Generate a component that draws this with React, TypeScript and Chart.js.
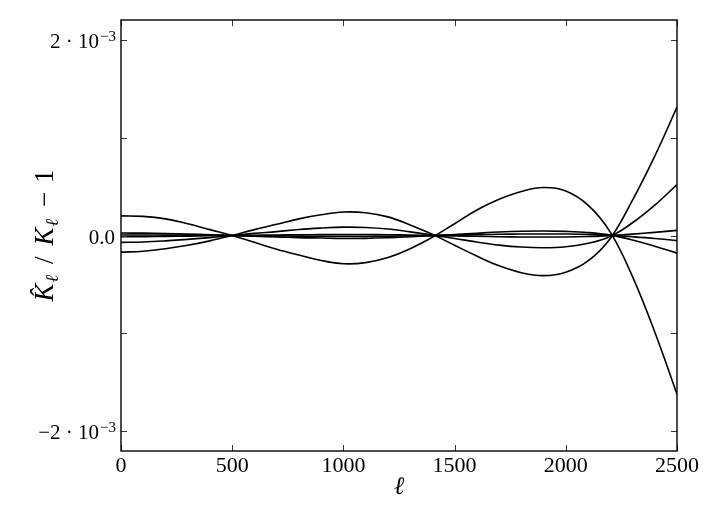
import React, { useEffect, useRef } from "react";
import { Chart, registerables } from "chart.js";

Chart.register(...registerables);

// multipole ℓ
const ELL = [0, 100, 200, 300, 400, 500, 600, 700, 800, 900, 1000, 1100, 1200, 1300, 1400, 1500, 1600, 1700, 1800, 1900, 2000, 2100, 2200, 2300, 2400, 2500];

// curves, values in units of 1e-3
const CURVE_A = [-0.17, -0.16, -0.135, -0.1, -0.055, 0, 0.06, 0.115, 0.17, 0.212, 0.24, 0.232, 0.19, 0.108, 0.012, -0.1, -0.21, -0.31, -0.38, -0.41, -0.375, -0.26, -0.03, 0.36, 0.81, 1.31];
const CURVE_B = [0.2, 0.195, 0.17, 0.12, 0.06, 0, -0.07, -0.14, -0.2, -0.255, -0.288, -0.277, -0.225, -0.135, -0.018, 0.12, 0.26, 0.37, 0.45, 0.49, 0.455, 0.31, 0.035, -0.42, -0.985, -1.62];
const CURVE_C = [-0.07, -0.066, -0.055, -0.04, -0.022, 0, 0.022, 0.04, 0.062, 0.076, 0.085, 0.082, 0.066, 0.037, 0.004, -0.03, -0.067, -0.098, -0.118, -0.125, -0.115, -0.08, -0.01, 0.13, 0.31, 0.52];
const CURVE_D = [0.025, 0.024, 0.02, 0.014, 0.008, 0, -0.008, -0.014, -0.022, -0.026, -0.03, -0.029, -0.023, -0.013, -0.002, 0.01, 0.023, 0.035, 0.043, 0.046, 0.042, 0.03, 0.004, -0.045, -0.11, -0.18];
const CURVE_E = [-0.012, -0.011, -0.009, -0.006, -0.003, 0, 0.003, 0.005, 0.007, 0.009, 0.01, 0.01, 0.008, 0.005, 0.001, -0.004, -0.008, -0.012, -0.015, -0.016, -0.015, -0.01, -0.001, 0.014, 0.032, 0.052];
const CURVE_F = [0.005, 0.005, 0.004, 0.003, 0.002, 0, -0.002, -0.004, -0.006, -0.008, -0.009, -0.009, -0.007, -0.004, -0.001, 0.004, 0.008, 0.012, 0.015, 0.016, 0.015, 0.011, 0.001, -0.013, -0.03, -0.052];

const CURVES = [CURVE_A, CURVE_B, CURVE_C, CURVE_D, CURVE_E, CURVE_F];

const X_TICKS = [0, 500, 1000, 1500, 2000, 2500];
const Y_TICKS = [-2, -1, 0, 1, 2]; // units of 1e-3
const Y_TICK_MAIN = ["\u22122 \u00b7 10", "", "0.0", "", "2 \u00b7 10"];
const Y_TICK_EXP = ["\u22123", "", "", "", "\u22123"];
const X_TITLE = "\u2113";
const Y_TITLE_PARTS = ["K\u0302", "\u2113", "/", "K", "\u2113", "\u2212", "1"];

const SCALE = 1e-3;
const SERIF = "'Liberation Serif', 'DejaVu Serif', serif";

const framePlugin = {
  id: "frameTicks",
  afterDatasetsDraw(chart: any) {
    const { ctx, chartArea: a, scales } = chart;
    const xs = scales.x;
    const ys = scales.y;
    ctx.save();
    ctx.strokeStyle = "#333";
    ctx.lineWidth = 1;
    const tl = 6;
    X_TICKS.forEach((v) => {
      const px = Math.round(xs.getPixelForValue(v)) + 0.5;
      ctx.beginPath();
      ctx.moveTo(px, a.bottom);
      ctx.lineTo(px, a.bottom - tl);
      ctx.moveTo(px, a.top);
      ctx.lineTo(px, a.top + tl);
      ctx.stroke();
    });
    Y_TICKS.forEach((v) => {
      const py = Math.round(ys.getPixelForValue(v * SCALE)) + 0.5;
      ctx.beginPath();
      ctx.moveTo(a.left, py);
      ctx.lineTo(a.left + tl, py);
      ctx.moveTo(a.right, py);
      ctx.lineTo(a.right - tl, py);
      ctx.stroke();
    });
    ctx.strokeStyle = "#000";
    ctx.lineWidth = 1.4;
    ctx.strokeRect(a.left, a.top, a.right - a.left, a.bottom - a.top);

    // y tick labels with superscript exponent
    ctx.fillStyle = "#000";
    ctx.textBaseline = "alphabetic";
    ctx.textAlign = "left";
    const mainFont = "21px " + SERIF;
    const expFont = "15px " + SERIF;
    const right = a.left - 6;
    Y_TICKS.forEach((v, i) => {
      const main = Y_TICK_MAIN[i];
      const exp = Y_TICK_EXP[i];
      if (!main) return;
      const py = ys.getPixelForValue(v * SCALE);
      ctx.font = mainFont;
      const wm = ctx.measureText(main).width;
      ctx.font = expFont;
      const we = exp ? ctx.measureText(exp).width : 0;
      const x0 = right - wm - we;
      ctx.font = mainFont;
      ctx.fillText(main, x0, py + 8);
      if (exp) {
        ctx.font = expFont;
        ctx.fillText(exp, x0 + wm + 1, py + 1);
      }
    });

    // y axis title with subscripts, rotated
    const cy = (a.top + a.bottom) / 2;
    ctx.translate(44, cy);
    ctx.rotate(-Math.PI / 2);
    const big = "italic 27px " + SERIF;
    const sub = "italic 18px " + SERIF;
    const upright = "27px " + SERIF;
    const fonts = [big, sub, upright, big, sub, upright, upright];
    const dys = [0, 5, 0, 0, 5, 0, 0];
    const gaps = [0, 1, 11, 11, 1, 12, 9];
    let total = 0;
    const widths = Y_TITLE_PARTS.map((t, i) => {
      ctx.font = fonts[i];
      const w = ctx.measureText(t).width;
      total += w + gaps[i];
      return w;
    });
    let x = -total / 2;
    Y_TITLE_PARTS.forEach((t, i) => {
      x += gaps[i];
      ctx.font = fonts[i];
      ctx.fillText(t, x, 9 + dys[i]);
      x += widths[i];
    });
    ctx.restore();
  },
};

export default function App() {
  const ref = useRef<HTMLCanvasElement | null>(null);
  useEffect(() => {
    if (!ref.current) return;
    const chart = new Chart(ref.current, {
      type: "line",
      data: {
        datasets: CURVES.map((c, k) => ({
          label: "curve " + (k + 1),
          data: ELL.map((l, i) => ({ x: l, y: c[i] * SCALE })),
          borderColor: "#000",
          borderWidth: 1.6,
          pointRadius: 0,
          fill: false,
          tension: 0.4,
        })),
      },
      options: {
        responsive: false,
        animation: false,
        events: [],
        layout: { padding: { left: 0, top: 20, right: 36, bottom: 0 } },
        plugins: { legend: { display: false }, tooltip: { enabled: false }, title: { display: false } },
        scales: {
          x: {
            type: "linear",
            min: 0,
            max: 2500,
            afterFit: (s: any) => { s.height = 62; },
            afterBuildTicks: (s: any) => { s.ticks = X_TICKS.map((v) => ({ value: v })); },
            grid: { display: false, drawTicks: false },
            border: { display: false },
            ticks: {
              color: "#000",
              padding: 2,
              maxRotation: 0,
              font: { family: SERIF, size: 22 },
              callback: (v: any) => String(v),
            },
            title: {
              display: true,
              text: X_TITLE,
              color: "#000",
              font: { family: SERIF, size: 25, style: "italic" },
              padding: { top: 0, bottom: 11 },
            },
          },
          y: {
            type: "linear",
            min: -2.2 * SCALE,
            max: 2.2 * SCALE,
            afterFit: (s: any) => { s.width = 121; },
            afterBuildTicks: (s: any) => { s.ticks = Y_TICKS.map((v) => ({ value: v * SCALE })); },
            grid: { display: false, drawTicks: false },
            border: { display: false },
            ticks: { display: false },
          },
        },
      },
      plugins: [framePlugin],
    });
    return () => chart.destroy();
  }, []);
  return (
    <div style={{ position: "fixed", left: 0, top: 0, width: 713, height: 513, background: "#fff" }}>
      <canvas ref={ref} width={713} height={513} />
    </div>
  );
}
